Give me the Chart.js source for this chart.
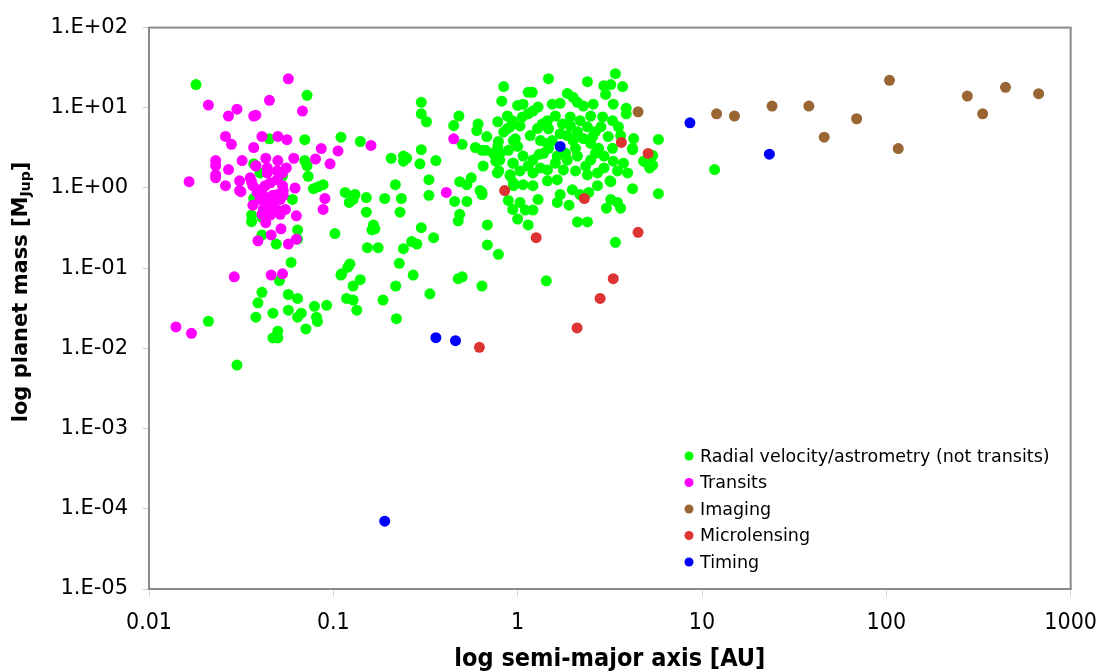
<!DOCTYPE html>
<html>
<head>
<meta charset="utf-8">
<script src="https://cdn.jsdelivr.net/npm/chart.js@4.4.0/dist/chart.umd.min.js"></script>
<style>
html,body{margin:0;padding:0;background:#fff;}
canvas{display:block;}
</style>
</head>
<body>
<canvas id="c" width="1109" height="672"></canvas>
<script>
// ---- data: [semi-major axis (AU), mass (M_Jup)] ----
const seriesNames = ["Radial velocity/astrometry (not transits)", "Transits", "Imaging", "Microlensing", "Timing"];
const seriesColors = ["#00FF00", "#FF00FF", "#996633", "#DD3333", "#0000FF"];

const radialVelocity = [
[0.018,19.5],[0.072,14.3],[0.070,4.0],[0.11,4.3],[0.14,3.8],[0.070,2.2],[0.072,1.9],[0.073,1.4],[0.078,0.98],[0.083,1.04],[0.088,1.1],[0.116,0.88],[0.131,0.83],[0.122,0.66],[0.128,0.72],[0.060,0.72],[0.053,1.42],[0.036,0.46],[0.036,0.38],[0.041,0.43],[0.064,0.30],[0.041,0.26],[0.049,0.20],[0.102,0.27],[0.064,0.23],[0.037,2.0],[0.040,1.54],[0.045,4.1],[0.037,0.74],[0.059,0.118],[0.051,0.070],[0.041,0.050],[0.039,0.037],[0.057,0.047],[0.064,0.042],[0.057,0.030],[0.047,0.0275],[0.038,0.0245],[0.067,0.0275],[0.064,0.0245],[0.079,0.0335],[0.092,0.0344],[0.081,0.0245],[0.082,0.0217],[0.071,0.0175],[0.050,0.0164],[0.047,0.0135],[0.050,0.0135],[0.021,0.0218],[0.030,0.0062],[0.110,0.082],[0.120,0.103],[0.118,0.042],
[0.84,18.4],[0.82,12.1],[1.0,10.7],[0.30,11.7],[0.30,8.4],[0.32,6.7],[0.48,7.9],[0.45,6.0],[0.61,6.3],[0.60,5.2],[0.88,7.9],[0.91,5.8],[0.78,6.7],[0.84,5.0],[0.97,4.1],[0.50,3.5],[0.59,3.2],[0.67,2.95],[0.78,3.3],[0.80,2.7],[0.89,2.95],[0.30,3.0],[0.206,2.35],[0.24,2.5],[0.25,2.35],[0.24,2.16],[0.295,2.0],[0.36,2.2],[0.65,1.88],[0.76,2.16],[0.79,1.63],[0.94,2.04],[0.33,1.27],[0.217,1.1],[0.485,1.2],[0.53,1.1],[0.56,1.34],[0.625,0.93],[0.64,0.83],[0.91,1.42],[0.95,1.07],[0.151,0.76],[0.19,0.74],[0.234,0.74],[0.33,0.81],[0.455,0.68],[0.53,0.68],[0.89,0.70],[0.94,0.54],[0.151,0.50],[0.23,0.50],[0.485,0.47],[0.476,0.39],[1.0,0.41],[0.165,0.346],[0.168,0.31],[0.162,0.30],[0.30,0.32],[0.685,0.346],[0.35,0.24],[0.266,0.215],[0.284,0.20],[0.153,0.18],[0.175,0.18],[0.24,0.175],[0.685,0.195],[0.786,0.149],[0.123,0.113],[0.228,0.115],[0.111,0.085],[0.271,0.082],[0.14,0.072],[0.128,0.060],[0.218,0.060],[0.476,0.074],[0.50,0.078],[0.64,0.060],[0.334,0.048],[0.128,0.040],[0.134,0.030],[0.186,0.040],[0.22,0.0235],[1.43,0.0695],
[3.39,26.6],[1.47,23.1],[2.39,21.2],[2.93,18.9],[3.2,19.5],[3.71,18.4],[1.14,15.6],[1.20,15.6],[1.86,15.1],[2.0,13.5],[3.0,14.7],[1.07,11.1],[1.29,10.2],[1.21,9.1],[1.54,11.1],[1.70,11.4],[2.11,11.7],[2.27,10.5],[2.57,11.1],[3.3,11.1],[3.88,9.9],[3.88,8.4],[0.935,6.9],[1.06,7.7],[1.14,8.4],[1.6,7.9],[1.45,6.9],[1.93,7.7],[2.18,6.9],[2.49,7.9],[2.89,7.7],[0.88,5.5],[1.03,5.95],[1.28,5.5],[1.36,6.3],[1.75,6.3],[1.93,5.95],[2.11,5.04],[2.39,5.8],[2.64,5.04],[3.1,4.38],[3.62,4.5],[4.26,4.14],[5.8,4.03],[0.68,4.38],[0.786,3.8],[0.948,3.9],[1.0,3.3],[1.17,4.5],[1.33,3.9],[1.45,3.6],[1.54,3.9],[1.86,4.5],[2.0,3.9],[2.27,4.14],[2.49,3.6],[2.75,3.12],[3.27,3.12],[4.2,3.12],[4.82,2.16],[5.2,2.04],[0.64,2.95],[0.738,2.71],[0.80,2.23],[0.948,2.04],[1.07,2.5],[1.21,2.23],[1.38,2.71],[1.64,2.5],[1.86,2.23],[2.11,2.5],[2.49,2.23],[2.94,2.5],[3.3,2.16],[3.75,2.04],[5.4,2.55],[5.4,1.93],[4.95,2.1],[4.2,3.0],[0.776,1.54],[0.91,1.46],[1.03,1.63],[1.21,1.54],[1.45,1.68],[1.64,1.27],[1.77,1.68],[2.06,1.63],[2.39,1.46],[2.71,1.54],[2.94,1.78],[3.48,1.63],[3.95,1.54],[5.2,1.78],[0.948,1.16],[1.07,1.1],[1.21,1.07],[1.45,1.23],[3.17,1.23],[4.2,0.98],[5.8,0.85],[2.71,1.07],[3.2,1.2],[0.64,0.88],[1.70,0.83],[1.98,0.95],[2.18,0.83],[2.43,0.88],[1.03,0.66],[1.29,0.72],[1.64,0.66],[1.9,0.61],[3.2,0.72],[3.48,0.66],[3.03,0.56],[3.62,0.56],[1.1,0.53],[1.21,0.53],[1.14,0.346],[2.11,0.377],[2.39,0.377],[3.39,0.21],[11.7,1.7],[1.31,2.63],[1.47,3.12],[1.70,4.76],[1.60,2.04],[2.06,3.12],[1.82,2.71],[2.34,1.88],[2.64,2.71],[1.33,1.78],[1.14,1.88],[1.47,5.48],[2.55,4.38],[2.83,5.8],[3.27,6.9],[3.52,5.8]
];

const transits = [
[0.057,23],[0.021,10.8],[0.045,12.4],[0.068,9.1],[0.030,9.6],[0.027,7.9],[0.037,7.9],[0.038,8.1],[0.026,4.4],[0.028,3.5],[0.041,4.4],[0.050,4.4],[0.056,4.0],[0.037,3.2],[0.086,3.1],[0.106,2.9],[0.16,3.4],[0.080,2.3],[0.096,2.0],[0.061,2.35],[0.050,2.2],[0.043,2.35],[0.038,1.9],[0.032,2.2],[0.023,2.2],[0.023,1.9],[0.027,1.7],[0.023,1.46],[0.023,1.34],[0.026,1.07],[0.031,1.23],[0.031,0.93],[0.0165,1.2],[0.062,1.0],[0.090,0.74],[0.088,0.54],[0.063,0.45],[0.039,0.22],[0.057,0.20],[0.063,0.23],[0.046,0.26],[0.052,0.31],[0.043,0.37],[0.029,0.078],[0.046,0.082],[0.053,0.085],[0.014,0.0185],[0.017,0.0154],[0.45,4.1],[0.41,0.88],
[0.0354,1.34],[0.0366,1.07],[0.039,0.95],[0.0427,1.07],[0.0455,1.16],[0.0496,1.27],[0.053,1.07],[0.050,0.83],[0.047,0.81],[0.0417,0.81],[0.0386,0.88],[0.040,0.72],[0.0438,0.66],[0.047,0.66],[0.0515,0.72],[0.0535,0.81],[0.0366,0.61],[0.0417,0.54],[0.0455,0.54],[0.0496,0.53],[0.055,0.54],[0.0515,0.47],[0.0455,0.46],[0.041,0.47],[0.0438,1.54],[0.0496,1.63],[0.036,1.2],[0.053,1.54],[0.0535,0.93],[0.038,1.88],[0.0438,1.78],[0.0556,1.78],[0.0315,0.9]
];

const imaging = [
[4.5,8.9],[12,8.4],[15,7.9],[24,10.5],[38,10.5],[46,4.3],[69,7.3],[104,22],[116,3.1],[275,14],[333,8.4],[443,18],[670,15]
];

const microlensing = [
[0.85,0.93],[1.26,0.24],[2.3,0.74],[3.65,3.7],[5.1,2.7],[4.5,0.28],[3.3,0.074],[2.8,0.042],[2.1,0.018],[0.62,0.0103]
];

const timing = [
[0.36,0.0136],[0.46,0.0125],[1.70,3.3],[8.6,6.5],[23.2,2.64],[0.19,0.00007]
];

const xTickValues = [0.01, 0.1, 1, 10, 100, 1000];
const xTickLabels = ["0.01", "0.1", "1", "10", "100", "1000"];
const yTickValues = [1e-5, 1e-4, 1e-3, 1e-2, 1e-1, 1, 10, 100];
const yTickLabels = ["1.E-05", "1.E-04", "1.E-03", "1.E-02", "1.E-01", "1.E+00", "1.E+01", "1.E+02"];

const xTitle = "log semi-major axis [AU]";
const yTitleParts = ["log planet mass [M", "Jup", "]"];

// ---- build chart ----
const allSeries = [radialVelocity, transits, imaging, microlensing, timing];
const datasets = allSeries.map((pts, i) => ({
  label: seriesNames[i],
  data: pts.map(p => ({x: p[0], y: p[1]})),
  backgroundColor: seriesColors[i],
  borderWidth: 0,
  pointRadius: 5.5,
  pointHoverRadius: 5.5,
  order: allSeries.length - i
}));

const frameBox = {
  id: 'frameBox',
  beforeDatasetsDraw(chart) {
    const a = chart.chartArea, ctx = chart.ctx;
    ctx.save();
    ctx.strokeStyle = '#8a8a8a';
    ctx.lineWidth = 2;
    ctx.strokeRect(a.left, a.top, a.right - a.left, a.bottom - a.top);
    ctx.restore();
  }
};

const yTitlePlugin = {
  id: 'yTitlePlugin',
  afterDraw(chart) {
    const ctx = chart.ctx;
    const big = 'bold 21px "DejaVu Sans", Verdana, sans-serif';
    const small = 'bold 14px "DejaVu Sans", Verdana, sans-serif';
    ctx.save();
    ctx.translate(22, 292);
    ctx.rotate(-Math.PI / 2);
    ctx.fillStyle = '#000';
    ctx.textBaseline = 'middle';
    ctx.textAlign = 'left';
    ctx.font = big; const w0 = ctx.measureText(yTitleParts[0]).width;
    ctx.font = small; const w1 = ctx.measureText(yTitleParts[1]).width;
    ctx.font = big; const w2 = ctx.measureText(yTitleParts[2]).width;
    let x = -(w0 + w1 + w2) / 2;
    ctx.font = big; ctx.fillText(yTitleParts[0], x, 0); x += w0;
    ctx.font = small; ctx.fillText(yTitleParts[1], x, 4); x += w1;
    ctx.font = big; ctx.fillText(yTitleParts[2], x, 0);
    ctx.restore();
  }
};

const legendPlugin = {
  id: 'insideLegend',
  afterDraw(chart) {
    const ctx = chart.ctx;
    ctx.save();
    ctx.font = '17.5px "DejaVu Sans", Verdana, sans-serif';
    ctx.textBaseline = 'middle';
    ctx.textAlign = 'left';
    chart.data.datasets.forEach((ds, i) => {
      const y = 456 + i * 26.5;
      ctx.fillStyle = ds.backgroundColor;
      ctx.beginPath();
      ctx.arc(689, y, 4.5, 0, Math.PI * 2);
      ctx.fill();
      ctx.fillStyle = '#000';
      ctx.fillText(ds.label, 700, y + 1);
    });
    ctx.restore();
  }
};

new Chart(document.getElementById('c'), {
  type: 'scatter',
  data: { datasets },
  plugins: [frameBox, yTitlePlugin, legendPlugin],
  options: {
    responsive: false,
    animation: false,
    events: [],
    layout: { padding: { top: 16, right: 38, left: 0, bottom: 0 } },
    plugins: { legend: { display: false }, tooltip: { enabled: false } },
    scales: {
      x: {
        type: 'logarithmic',
        min: 0.01, max: 1000,
        afterBuildTicks: s => { s.ticks = xTickValues.map(v => ({ value: v })); },
        afterFit: s => { s.height = 83; },
        ticks: {
          callback: (v, i) => xTickLabels[i],
          font: { family: '"Liberation Sans Narrow", "DejaVu Sans Condensed", "DejaVu Sans", sans-serif', size: 23 },
          color: '#000', padding: 12, maxRotation: 0, autoSkip: false
        },
        grid: { drawOnChartArea: false, tickLength: 8, color: '#d8d8d8' },
        border: { color: '#8a8a8a', width: 2 },
        title: {
          display: true, text: xTitle, color: '#000', padding: 0,
          font: { family: '"Liberation Sans Narrow", "DejaVu Sans Condensed", "DejaVu Sans", sans-serif', size: 25, weight: 'bold', lineHeight: 1.0 }
        }
      },
      y: {
        type: 'logarithmic',
        min: 1e-5, max: 100,
        afterBuildTicks: s => { s.ticks = yTickValues.map(v => ({ value: v })); },
        afterFit: s => { s.width = 149; },
        ticks: {
          callback: (v, i) => yTickLabels[i],
          font: { family: '"DejaVu Sans", Verdana, sans-serif', size: 21 },
          color: '#000', padding: 15, autoSkip: false
        },
        grid: { drawOnChartArea: false, tickLength: 6, color: '#c8c8c8' },
        border: { color: '#8a8a8a', width: 2 },
        title: { display: false }
      }
    }
  }
});
</script>
</body>
</html>
